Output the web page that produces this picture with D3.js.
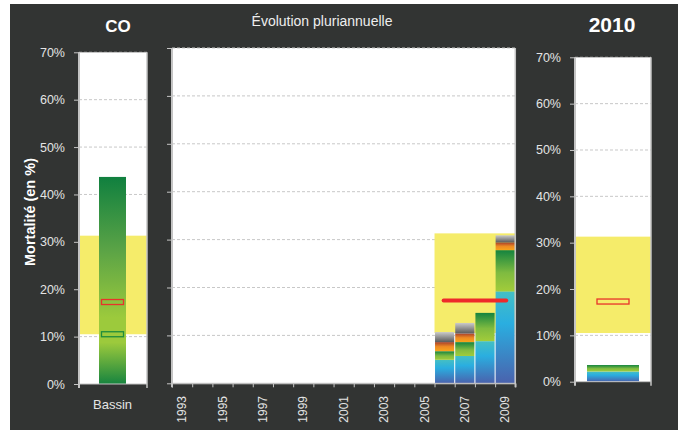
<!DOCTYPE html>
<html lang="fr">
<head>
<meta charset="utf-8">
<title>CO - Mortalité</title>
<script src="https://d3js.org/d3.v7.min.js"></script>
<style>
  body { margin:0; background:#fff; }
  text { font-family:"Liberation Sans", Arial, sans-serif; }
</style>
</head>
<body>
<svg width="682" height="430"></svg>
<script>
// données (en %)
var yTicks = [0,10,20,30,40,50,60,70];
var refBand = [10.5, 31.3];        // zone jaune
var refMean = 17.3;                // repère rouge
var bassinValue = 43.7;
var bassinLow = 10.5;              // repère vert
var years = d3.range(1993, 2010).map(String);
var yearLabels = ["1993","1995","1997","1999","2001","2003","2005","2007","2009"];
var stackYears = ["2006","2007","2008","2009"];
var bleu   = [4.9, 5.7, 8.8, 19.2];
var vert   = [1.8, 2.9, 5.9, 8.6];
var orange = [1.9, 1.8, 0, 1.6];
var gris   = [2.1, 2.2, 0, 1.5];
var year2010 = { bleu:2.2, vert:1.4, orange:0, gris:0 };
var keys = ["bleu","vert","orange","gris"];

var svg = d3.select("svg");
svg.append("rect").attr("x",10).attr("y",4).attr("width",668).attr("height",426).attr("fill","#323433");

var defs = svg.append("defs");
function grad(id, stops){
    var g = defs.append("linearGradient").attr("id",id)
        .attr("x1",0).attr("y1",1).attr("x2",0).attr("y2",0);
    stops.forEach(function(s){
        g.append("stop").attr("offset",s[0]).attr("stop-color",s[1]);
    });
}
// dégradés de bas en haut
grad("g-bleu",   [[0,"#4a62ad"],[0.65,"#2aaee0"],[1,"#44bfc4"]]);
grad("g-vert",   [[0,"#a2cc3a"],[0.45,"#7fbb40"],[1,"#14843f"]]);
grad("g-orange", [[0,"#f8a51b"],[0.5,"#ee8a22"],[1,"#a8402a"]]);
grad("g-gris",   [[0,"#5a5a5a"],[1,"#cacaca"]]);
grad("g-bassin", [[0,"#17843f"],[0.2,"#9cca3c"],[0.32,"#9cca3c"],[0.65,"#5aa346"],[1,"#10803f"]]);

var tickColor = "#e4e4e4", lineColor = "#c4c4c4";

function panel(x0, x1, y0, y1, showLabels){
    var y = d3.scaleLinear().domain([0,70]).range([y0, y1]);
    var g = svg.append("g");
    g.append("rect").attr("x",x0).attr("y",y1).attr("width",x1-x0).attr("height",y0-y1).attr("fill","#fff");
    g.selectAll(".grid").data(yTicks.slice(1)).enter().append("line")
        .attr("x1",x0).attr("x2",x1)
        .attr("y1",function(d){return y(d);}).attr("y2",function(d){return y(d);})
        .attr("stroke","#c8c8c8").attr("stroke-dasharray","3,2");
    var ax = g.append("g").attr("transform","translate("+x0+",0)")
        .call(d3.axisLeft(y).tickValues(yTicks).tickSize(5).tickPadding(9)
            .tickFormat(function(d){return showLabels ? d+"%" : "";}));
    ax.select(".domain").remove();
    ax.selectAll("line").attr("stroke",lineColor);
    ax.selectAll("text").attr("fill",tickColor).style("font-size","12.5px");
    return {g:g, y:y, x0:x0, x1:x1, y0:y0, y1:y1};
}
function frame(p){
    p.g.append("line").attr("x1",p.x0).attr("x2",p.x0).attr("y1",p.y1).attr("y2",p.y0+4)
        .attr("stroke",lineColor).attr("stroke-width",2);
    p.g.append("line").attr("x1",p.x1).attr("x2",p.x1).attr("y1",p.y1).attr("y2",p.y0+4)
        .attr("stroke",lineColor).attr("stroke-width",1.5);
    p.g.append("line").attr("x1",p.x0).attr("x2",p.x1).attr("y1",p.y0).attr("y2",p.y0)
        .attr("stroke",lineColor);
}
function band(p, xa, xb){
    p.g.append("rect").attr("x",xa).attr("width",xb-xa)
        .attr("y",p.y(refBand[1])).attr("height",p.y(refBand[0])-p.y(refBand[1]))
        .attr("fill","#f5ec6a");
}
function marker(p, xa, xb, v, color){
    p.g.append("rect").attr("x",xa).attr("width",xb-xa)
        .attr("y",p.y(v)-2.5).attr("height",5)
        .attr("fill","none").attr("stroke",color).attr("stroke-width",1.3);
}

// ---- panneau gauche : CO / Bassin
var pL = panel(79, 147, 384, 52.3, true);
band(pL, 79, 147);
pL.g.append("rect").attr("x",99).attr("width",27)
    .attr("y",pL.y(bassinValue)).attr("height",pL.y(0)-pL.y(bassinValue))
    .attr("fill","url(#g-bassin)");
marker(pL, 101.5, 123.5, refMean, "#e8332a");
marker(pL, 101.5, 123.5, bassinLow, "#1f8c3c");
frame(pL);
svg.append("text").attr("x",118).attr("y",32).attr("text-anchor","middle")
    .attr("fill","#fff").style("font-size","17px").style("font-weight","bold").text("CO");
svg.append("text").attr("x",112.5).attr("y",409).attr("text-anchor","middle")
    .attr("fill",tickColor).style("font-size","13px").text("Bassin");
svg.append("text").attr("transform","translate(35,212) rotate(-90)").attr("text-anchor","middle")
    .attr("fill","#fff").style("font-size","14.5px").style("font-weight","bold").text("Mortalité (en %)");

// ---- panneau central : évolution pluriannuelle
var pM = panel(172, 515.3, 383.3, 48, false);
var xM = d3.scaleBand().domain(years).range([172, 515.3]).paddingInner(0.05).paddingOuter(0.025);
var xLin = d3.scaleLinear().domain([1993, 2010]).range([172, 515.3]);
band(pM, xLin(2006), xLin(2010));

var rows = stackYears.map(function(yr, i){
    return {year:yr, bleu:bleu[i], vert:vert[i], orange:orange[i], gris:gris[i]};
});
var stacked = d3.stack().keys(keys)(rows);
pM.g.selectAll(".serie").data(stacked).enter().append("g")
    .attr("fill",function(d){return "url(#g-"+d.key+")";})
    .selectAll("rect").data(function(d){return d;}).enter().append("rect")
    .attr("x",function(d){return xM(d.data.year);})
    .attr("width",xM.bandwidth())
    .attr("y",function(d){return pM.y(d[1]);})
    .attr("height",function(d){return pM.y(d[0])-pM.y(d[1]);});

pM.g.append("line")
    .attr("x1",xM(stackYears[0])+xM.bandwidth()/2-1)
    .attr("x2",xM(stackYears[stackYears.length-1])+xM.bandwidth()/2+1)
    .attr("y1",pM.y(refMean)).attr("y2",pM.y(refMean))
    .attr("stroke","#ee2a2a").attr("stroke-width",4).attr("stroke-linecap","round");
frame(pM);
var xAx = svg.append("g").attr("transform","translate(0,"+383.3+")")
    .call(d3.axisBottom(xLin).tickValues(d3.range(1993,2011)).tickSize(4).tickFormat(""));
xAx.select(".domain").attr("stroke",lineColor);
xAx.selectAll("line").attr("stroke",lineColor);
svg.selectAll(".yl").data(yearLabels).enter().append("text")
    .attr("transform",function(d){return "translate("+(xM(d)+xM.bandwidth()/2)+",396) rotate(-90)";})
    .attr("text-anchor","end").attr("dy","0.35em")
    .attr("fill",tickColor).style("font-size","12px").text(function(d){return d;});
svg.append("text").attr("x",322).attr("y",26).attr("text-anchor","middle")
    .attr("fill","#eee").style("font-size","14px").text("Évolution pluriannuelle");

// ---- panneau droit : 2010
var pR = panel(575, 651, 381.7, 57.3, true);
band(pR, 575, 651);
var stack10 = d3.stack().keys(keys)([year2010]);
pR.g.selectAll(".s10").data(stack10).enter().append("rect")
    .attr("fill",function(d){return "url(#g-"+d.key+")";})
    .attr("x",587).attr("width",52)
    .attr("y",function(d){return pR.y(d[0][1]);})
    .attr("height",function(d){return pR.y(d[0][0])-pR.y(d[0][1]);});
marker(pR, 597, 629, refMean, "#e8332a");
frame(pR);
svg.append("text").attr("x",612).attr("y",32).attr("text-anchor","middle")
    .attr("fill","#fff").style("font-size","21px").style("font-weight","bold").text("2010");
</script>
</body>
</html>
